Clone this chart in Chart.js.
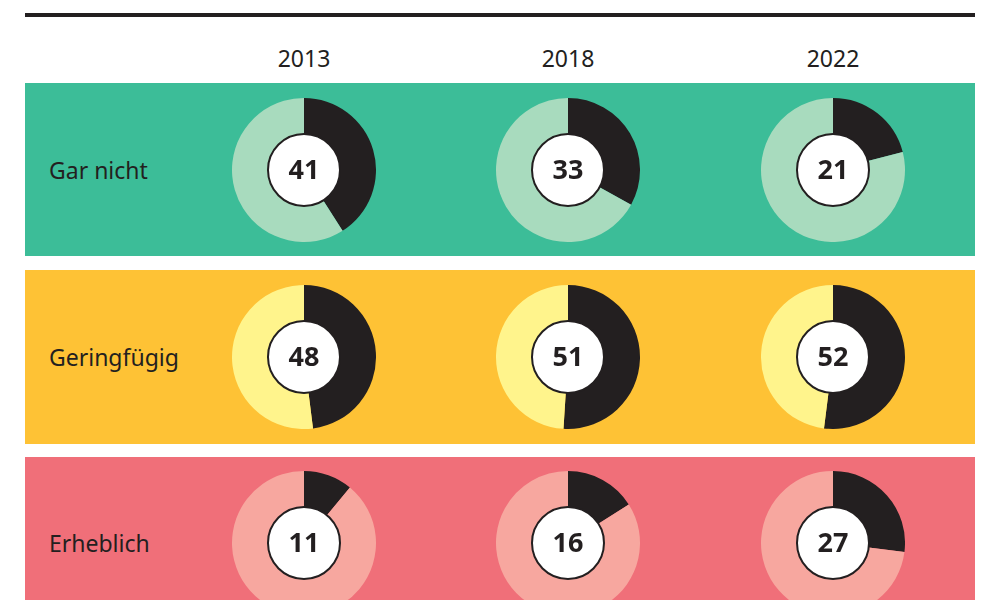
<!DOCTYPE html>
<html>
<head>
<meta charset="utf-8">
<script src="https://cdn.jsdelivr.net/npm/chart.js@4.4.0/dist/chart.umd.min.js"></script>
<style>
  html, body { margin: 0; padding: 0; background: #fff; }
  #wrap { position: relative; width: 1000px; height: 600px; overflow: hidden; font-family: "Source Sans Pro", "Noto Sans", sans-serif; color: #231f20; }
  .rule { position: absolute; left: 25px; top: 13px; width: 950px; height: 4px; background: #231f20; }
  .year { position: absolute; top: 43px; width: 100px; margin-left: -50px; text-align: center; font-size: 23px; line-height: 30px; }
  .band { position: absolute; left: 25px; width: 950px; }
  .label { position: absolute; left: 49px; font-size: 23px; line-height: 28px; margin-top: -14px; }
  canvas.donut { position: absolute; }
</style>
</head>
<body>
<div id="wrap">
  <div class="rule"></div>
</div>
<script>
var years = ["2013", "2018", "2022"];
var categories = ["Gar nicht", "Geringfügig", "Erheblich"];
var garNicht = [41, 33, 21];
var geringfuegig = [48, 51, 52];
var erheblich = [11, 16, 27];
var values = [garNicht, geringfuegig, erheblich];

var bandColors = ["#3cbd98", "#fec235", "#f06f79"];
var lightColors = ["#a8dbbe", "#fff48c", "#f7a79f"];
var darkColor = "#231f20";

var colX = [304, 568, 833];
var rowY = [170, 357, 543];
var bandTop = [83, 270, 457];
var bandHeight = [173, 174, 160];
var R = 72;

var wrap = document.getElementById("wrap");

years.forEach(function (y, i) {
  var d = document.createElement("div");
  d.className = "year";
  d.style.left = colX[i] + "px";
  d.textContent = y;
  wrap.appendChild(d);
});

categories.forEach(function (c, r) {
  var b = document.createElement("div");
  b.className = "band";
  b.style.top = bandTop[r] + "px";
  b.style.height = bandHeight[r] + "px";
  b.style.background = bandColors[r];
  wrap.appendChild(b);
  var l = document.createElement("div");
  l.className = "label";
  l.style.top = rowY[r] + "px";
  l.textContent = c;
  wrap.appendChild(l);
});

var centerPlugin = {
  id: "centerLabel",
  afterDraw: function (chart) {
    var arc = chart.getDatasetMeta(0).data[0];
    var ctx = chart.ctx;
    var ir = arc.innerRadius;
    ctx.save();
    ctx.beginPath();
    ctx.arc(arc.x, arc.y, ir, 0, Math.PI * 2);
    ctx.fillStyle = "#ffffff";
    ctx.fill();
    ctx.lineWidth = 2;
    ctx.strokeStyle = darkColor;
    ctx.stroke();
    ctx.fillStyle = darkColor;
    ctx.font = "bold 27px 'Noto Sans', sans-serif";
    ctx.textAlign = "center";
    ctx.textBaseline = "middle";
    ctx.fillText(String(chart.data.datasets[0].data[0]), arc.x, arc.y + 1);
    ctx.restore();
  }
};

values.forEach(function (row, r) {
  row.forEach(function (v, c) {
    var cv = document.createElement("canvas");
    cv.className = "donut";
    cv.width = R * 2;
    cv.height = R * 2;
    cv.style.left = (colX[c] - R) + "px";
    cv.style.top = (rowY[r] - R) + "px";
    wrap.appendChild(cv);
    new Chart(cv.getContext("2d"), {
      type: "doughnut",
      data: {
        labels: ["Anteil", "Rest"],
        datasets: [{
          data: [v, 100 - v],
          backgroundColor: [darkColor, lightColors[r]],
          borderWidth: 0
        }]
      },
      options: {
        responsive: false,
        animation: false,
        cutout: "50%",
        layout: { padding: 0 },
        plugins: { legend: { display: false }, tooltip: { enabled: false } }
      },
      plugins: [centerPlugin]
    });
  });
});
</script>
</body>
</html>
